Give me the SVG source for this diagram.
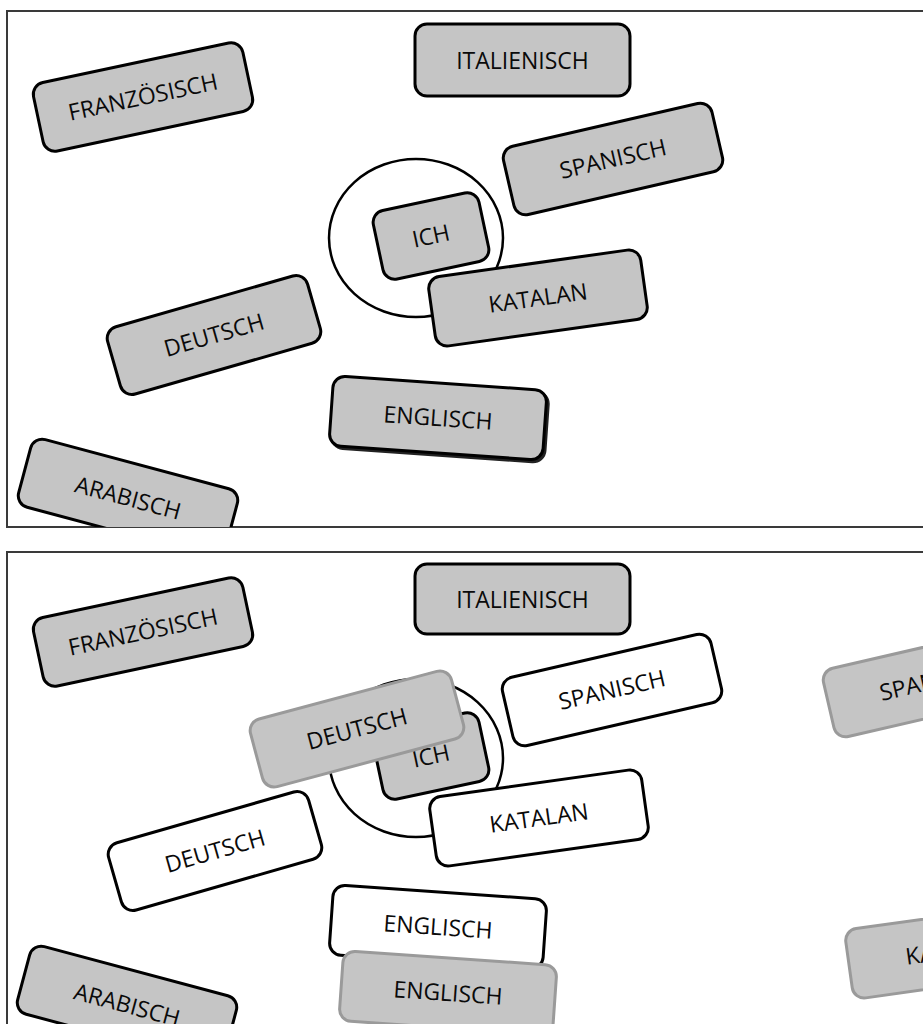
<svg xmlns="http://www.w3.org/2000/svg" width="923" height="1024" viewBox="0 0 923 1024">
<style>
.box rect{stroke-width:3;}
.g rect{fill:#c5c5c5;stroke:#000;}
.w rect{fill:#fff;stroke:#000;}
.f rect{fill:#c5c5c5;stroke:#9a9a9a;}
text{font-family:"Open Sans","Liberation Sans",sans-serif;font-size:23px;fill:#0a0a0a;text-anchor:middle;}
.frame{fill:#fff;stroke:#3a3a3a;stroke-width:2;}
.ring{fill:#fff;stroke:#000;stroke-width:2.5;}
</style>
<defs>
<clipPath id="c1"><rect x="7" y="11" width="930" height="516"/></clipPath>
<clipPath id="c2"><rect x="7" y="552" width="930" height="480"/></clipPath>
</defs>
<rect width="923" height="1024" fill="#fff"/>
<rect class="frame" x="7" y="11" width="940" height="516"/>
<rect class="frame" x="7" y="552" width="940" height="500"/>
<g id="connectors"/>
<g id="panel1" clip-path="url(#c1)">
  <g id="p1-franzoesisch" class="box g" transform="translate(143,97) rotate(-12)"><rect x="-107" y="-35" width="214" height="70" rx="12"/><text y="8">FRANZÖSISCH</text></g>
  <g id="p1-italienisch" class="box g" transform="translate(522.5,60)"><rect x="-107.5" y="-36" width="215" height="72" rx="12"/><text y="9">ITALIENISCH</text></g>
  <g id="p1-spanisch" class="box g" transform="translate(613,159) rotate(-13)"><rect x="-107" y="-35" width="214" height="70" rx="12"/><text y="8">SPANISCH</text></g>
  <ellipse id="p1-ring" class="ring" cx="416" cy="238" rx="87" ry="79"/>
  <g id="p1-ich" class="box g" transform="translate(431,236) rotate(-12)"><rect x="-54" y="-35" width="108" height="70" rx="12"/><text y="8">ICH</text></g>
  <g id="p1-katalan" class="box g" transform="translate(538,298) rotate(-8)"><rect x="-107" y="-35" width="214" height="70" rx="12"/><text y="8">KATALAN</text></g>
  <g id="p1-deutsch" class="box g" transform="translate(214,335) rotate(-16)"><rect x="-104" y="-35" width="208" height="70" rx="12"/><text y="8">DEUTSCH</text></g>
  <g id="p1-englisch" class="box g" transform="translate(438,418) rotate(4)"><rect x="-105" y="-33" width="214" height="70" rx="12" style="fill:#222;stroke:#222"/><rect x="-107" y="-35" width="214" height="70" rx="12"/><text y="8">ENGLISCH</text></g>
  <g id="p1-arabisch" class="box g" transform="translate(128,498) rotate(15)"><rect x="-107" y="-35" width="214" height="70" rx="12"/><text y="8">ARABISCH</text></g>
</g>
<g id="panel2" clip-path="url(#c2)">
  <g id="p2-franzoesisch" class="box g" transform="translate(143,632) rotate(-12)"><rect x="-107" y="-35" width="214" height="70" rx="12"/><text y="8">FRANZÖSISCH</text></g>
  <g id="p2-italienisch" class="box g" transform="translate(522.5,599)"><rect x="-107.5" y="-35" width="215" height="70" rx="12"/><text y="9">ITALIENISCH</text></g>
  <g id="p2-spanisch" class="box w" transform="translate(612,690) rotate(-13)"><rect x="-107" y="-35" width="214" height="70" rx="12"/><text y="8">SPANISCH</text></g>
  <ellipse id="p2-ring" class="ring" cx="416" cy="758" rx="87" ry="79"/>
  <g id="p2-ich" class="box g" transform="translate(431,756) rotate(-12)"><rect x="-54" y="-35" width="108" height="70" rx="12"/><text y="8">ICH</text></g>
  <g id="p2-katalan" class="box w" transform="translate(539,818) rotate(-8)"><rect x="-107" y="-35" width="214" height="70" rx="12"/><text y="8">KATALAN</text></g>
  <g id="p2-deutsch" class="box w" transform="translate(215,851) rotate(-16)"><rect x="-104" y="-35" width="208" height="70" rx="12"/><text y="8">DEUTSCH</text></g>
  <g id="p2-deutsch-moved" class="box f" transform="translate(357,729) rotate(-15)"><rect x="-104" y="-35" width="208" height="70" rx="12"/><text y="8">DEUTSCH</text></g>
  <g id="p2-englisch" class="box w" transform="translate(438,927) rotate(4)"><rect x="-107" y="-35" width="214" height="70" rx="12"/><text y="8">ENGLISCH</text></g>
  <g id="p2-englisch-moved" class="box f" transform="translate(448,993) rotate(4)"><rect x="-107" y="-35" width="214" height="70" rx="12"/><text y="8">ENGLISCH</text></g>
  <g id="p2-arabisch" class="box g" transform="translate(127,1005) rotate(15)"><rect x="-107" y="-35" width="214" height="70" rx="12"/><text y="8">ARABISCH</text></g>
  <g id="p2-spanisch-moved" class="box f" transform="translate(933,681) rotate(-13)"><rect x="-107" y="-35" width="214" height="70" rx="12"/><text y="8">SPANISCH</text></g>
  <g id="p2-katalan-moved" class="box f" transform="translate(955,950) rotate(-8)"><rect x="-107" y="-35" width="214" height="70" rx="12"/><text y="8">KATALAN</text></g>
</g>
</svg>
